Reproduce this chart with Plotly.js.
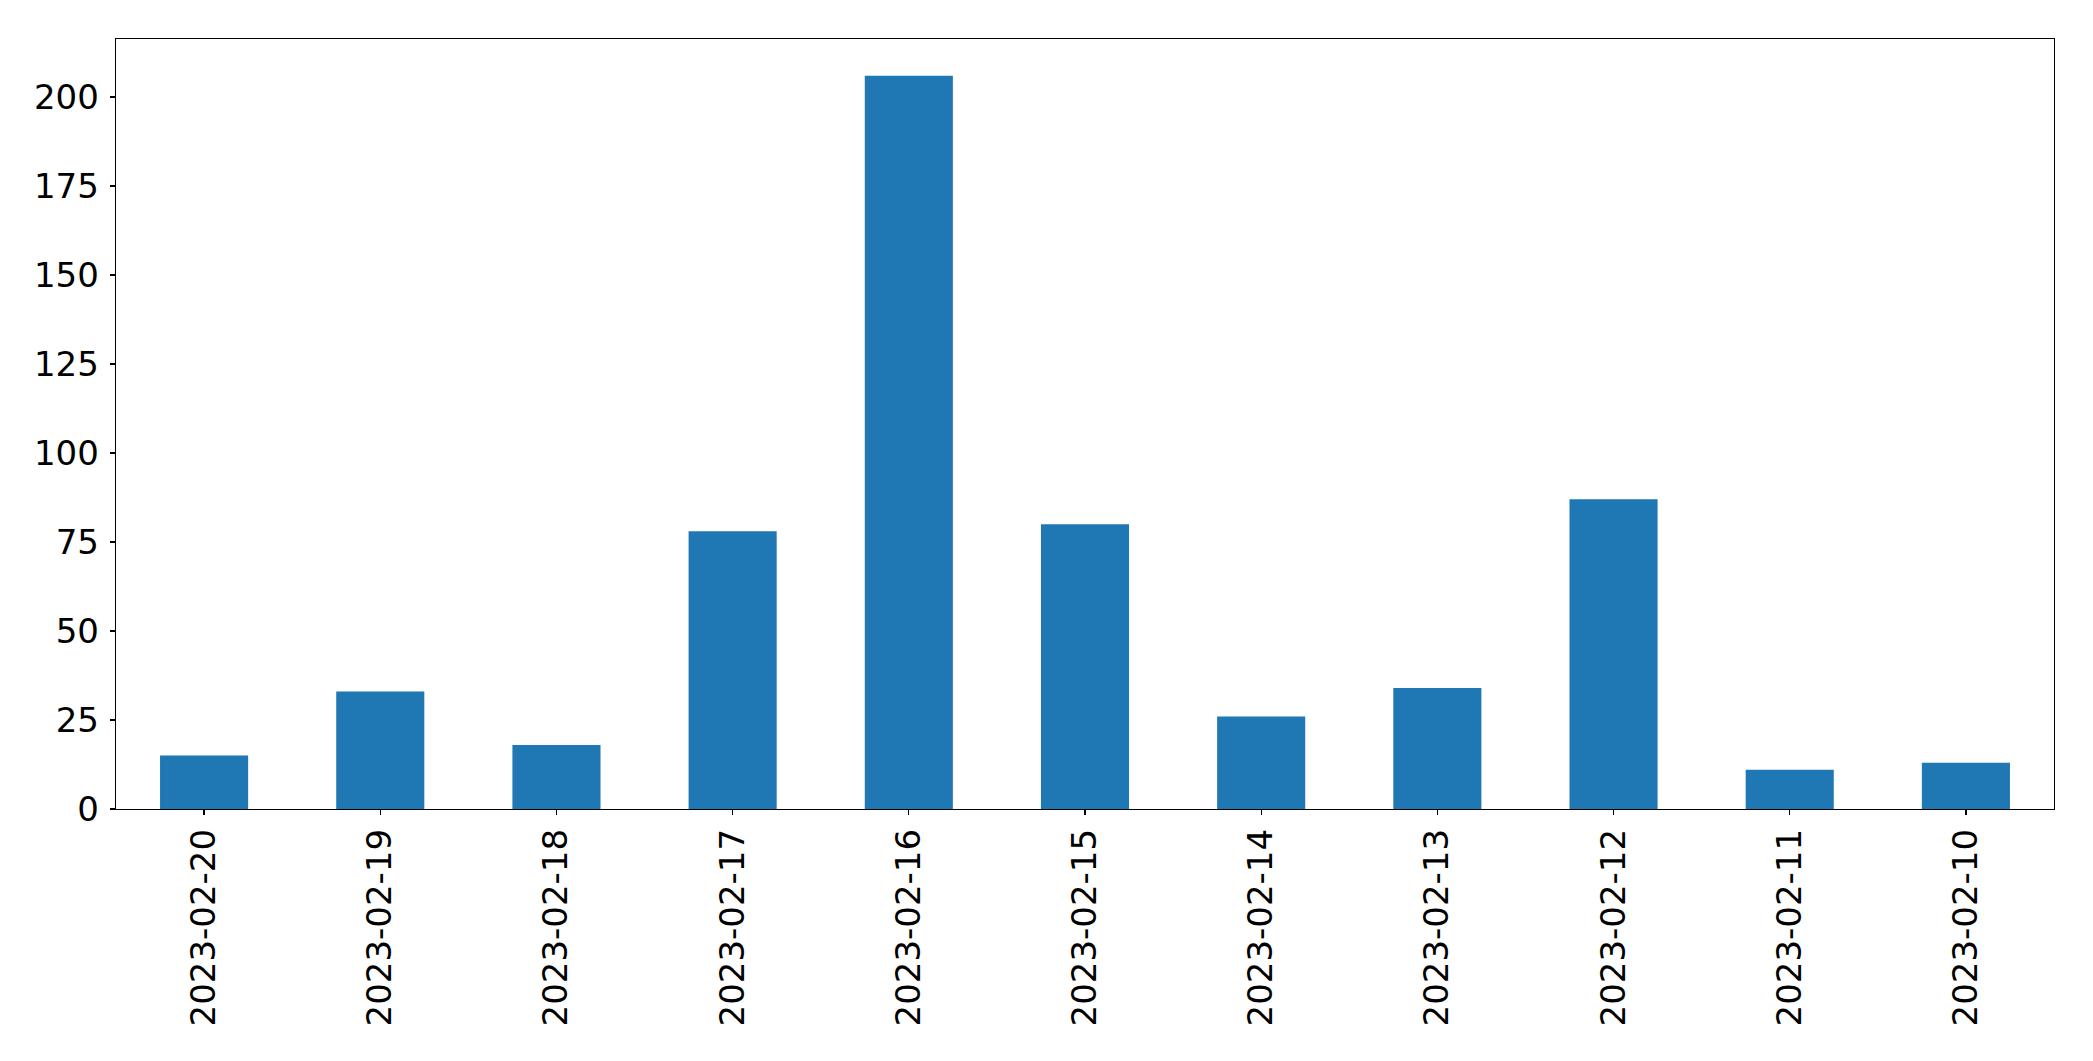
<!DOCTYPE html>
<html>
<head>
<meta charset="utf-8">
<script src="https://cdn.plot.ly/plotly-3.0.1.min.js"></script>
<style>html,body{margin:0;padding:0;background:#fff;}#chart{width:2093px;height:1061px;}</style>
</head>
<body>
<div id="chart"></div>
<script>
const dates = ["2023-02-20","2023-02-19","2023-02-18","2023-02-17","2023-02-16","2023-02-15","2023-02-14","2023-02-13","2023-02-12","2023-02-11","2023-02-10"];
const counts = [15, 33, 18, 78, 206, 80, 26, 34, 87, 11, 13];
const yTicks = [0, 25, 50, 75, 100, 125, 150, 175, 200];

const trace = {
  type: "bar",
  x: dates,
  y: counts,
  width: 0.5,
  marker: {color: "#1f77b4", line: {width: 0}},
  hoverinfo: "x+y"
};

const layout = {
  width: 2093,
  height: 1061,
  margin: {l: 116, r: 39, t: 39, b: 252, pad: 0},
  paper_bgcolor: "#ffffff",
  plot_bgcolor: "#ffffff",
  font: {family: "DejaVu Sans, sans-serif", size: 34, color: "#000"},
  showlegend: false,
  bargap: 0.5,
  xaxis: {
    type: "category",
    range: [-0.5, dates.length - 0.5],
    tickangle: -90,
    ticks: "outside",
    ticklen: 5,
    tickwidth: 1.2,
    tickcolor: "#000",
    showline: true,
    linecolor: "#000",
    linewidth: 1.3,
    mirror: true,
    showgrid: false,
    zeroline: false,
    ticklabelstandoff: 0,
    tickfont: {family: "DejaVu Sans, sans-serif", size: 34, color: "#000"}
  },
  yaxis: {
    range: [0, 216.3],
    tickmode: "array",
    tickvals: yTicks,
    ticktext: yTicks.map(String),
    ticks: "outside",
    ticklen: 5,
    tickwidth: 1.2,
    tickcolor: "#000",
    showline: true,
    linecolor: "#000",
    linewidth: 1.3,
    mirror: true,
    showgrid: false,
    zeroline: false,
    ticklabelstandoff: 4,
    tickfont: {family: "DejaVu Sans, sans-serif", size: 34, color: "#000"}
  }
};

Plotly.newPlot("chart", [trace], layout, {displayModeBar: false, staticPlot: true});
</script>
</body>
</html>
